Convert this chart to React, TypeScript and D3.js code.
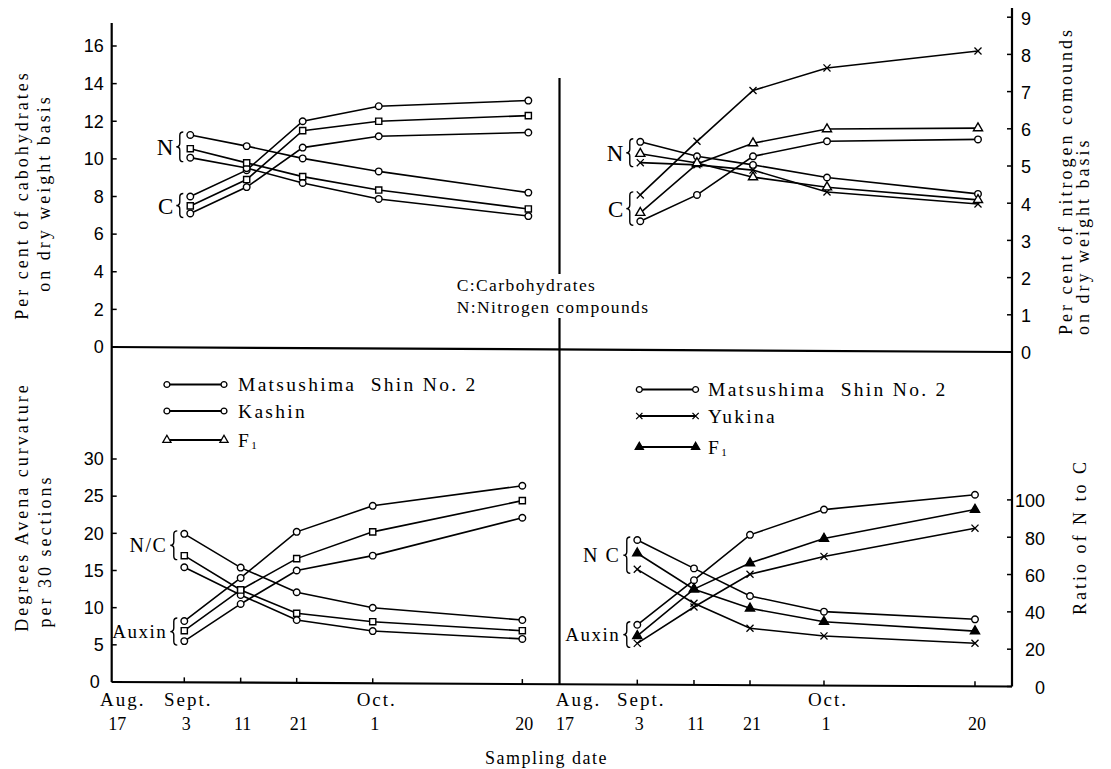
import React from 'react';
import * as d3 from 'd3';

// sampling dates, counted in days after Aug. 17
const sampleDays = [17, 25, 35, 45, 64];
const tickDays = [0, 17, 25, 35, 45, 64];
const dayLabels = ['17', '3', '11', '21', '1', '20'];
const monthDays = [0, 17, 45];
const monthLabels = ['Aug.', 'Sept.', 'Oct.'];

// left pair: Matsushima Shin No.2, Kashin, F1
const carbMatsuL = [7.1, 8.5, 10.6, 11.2, 11.4];
const carbKashin = [8.0, 9.4, 12.0, 12.8, 13.1];
const carbF1L = [7.5, 8.9, 11.5, 12.0, 12.3];
const nitroMatsuL = [5.7, 5.4, 5.07, 4.72, 4.15];
const nitroKashin = [5.09, 4.81, 4.41, 3.98, 3.52];
const nitroF1L = [5.33, 4.95, 4.58, 4.22, 3.71];
const auxinMatsuL = [8.2, 14.0, 20.2, 23.7, 26.4];
const auxinKashin = [5.5, 10.5, 15.0, 17.0, 22.1];
const auxinF1L = [6.9, 12.4, 16.6, 20.2, 24.4];
const ratioMatsuL = [79.4, 61.3, 48.1, 39.8, 33.2];
const ratioKashin = [61.5, 46.6, 33.2, 27.3, 23.1];
const ratioF1L = [67.7, 49.3, 36.8, 32.3, 27.5];

// right pair: Matsushima Shin No.2, Yukina, F1
const carbMatsuR = [6.95, 8.35, 10.4, 11.2, 11.3];
const carbYukina = [8.35, 11.2, 13.9, 15.1, 16.0];
const carbF1R = [7.4, 10.0, 11.1, 11.85, 11.9];
const nitroMatsuR = [5.65, 5.26, 5.03, 4.69, 4.25];
const nitroYukina = [5.09, 5.03, 4.89, 4.3, 3.98];
const nitroF1R = [5.33, 5.08, 4.7, 4.43, 4.09];
const auxinMatsuR = [8.3, 14.3, 20.4, 23.8, 25.8];
const auxinYukina = [5.8, 10.7, 15.1, 17.5, 21.3];
const auxinF1R = [6.8, 13.1, 16.6, 19.9, 23.8];
const ratioMatsuR = [78.5, 63.3, 48.5, 40.1, 36.0];
const ratioYukina = [62.8, 44.6, 31.2, 27.1, 23.2];
const ratioF1R = [71.4, 52.1, 41.9, 34.7, 29.7];

const carbTicks = [0, 2, 4, 6, 8, 10, 12, 14, 16];
const nitroTicks = [0, 1, 2, 3, 4, 5, 6, 7, 8, 9];
const auxinTicks = [0, 5, 10, 15, 20, 25, 30];
const ratioTicks = [0, 20, 40, 60, 80, 100];

const legendLeft = ['Matsushima  Shin No. 2', 'Kashin', 'F1'];
const legendRight = ['Matsushima  Shin No. 2', 'Yukina', 'F1'];

const SERIF = "'Liberation Serif', 'Times New Roman', serif";
const SANS = "'Liberation Sans Narrow', 'Arial Narrow', 'Liberation Sans', sans-serif";

// frame
const X0 = 111.7, XM = 559.5, X1 = 1012;
const fracL = [0, 0.1621, 0.288, 0.4131, 0.5829, 0.917];
const fracR = [0, 0.1719, 0.2972, 0.421, 0.5845, 0.9182];

const dateScale = (left: number, right: number, frac: number[], shift: number) =>
  d3.scaleLinear().domain(tickDays).range(frac.map(f => left + f * (right - left) + shift));

const xTL = dateScale(X0, XM, fracL, 6);
const xBL = dateScale(X0, XM, fracL, 0);
const xTR = dateScale(XM, X1, fracR, 3);
const xBR = dateScale(XM, X1, fracR, 0);

const yCarbL = d3.scaleLinear().domain([0, 16]).range([347, 46]);
const yCarbR = d3.scaleLinear().domain([0, 16]).range([352, 51]);
const yNitL = d3.scaleLinear().domain([0, 9]).range([347, 12.2]);
const yNitR = d3.scaleLinear().domain([0, 9]).range([352, 17.2]);
const yAuxL = d3.scaleLinear().domain([0, 30]).range([682, 459]);
const yAuxR = d3.scaleLinear().domain([0, 30]).range([686.5, 463.5]);
const yRatL = d3.scaleLinear().domain([0, 100]).range([682, 495.4]);
const yRatR = d3.scaleLinear().domain([0, 100]).range([686.5, 499.9]);

// the printed baselines are slightly tilted
const dividerY = d3.scaleLinear().domain([X0, X1]).range([347, 352]);
const axisY = d3.scaleLinear().domain([X0, X1]).range([682, 686.5]);

type Sym = 'circle' | 'square' | 'times' | 'triangle';
const symTypes: Record<Sym, d3.SymbolType> = {
  circle: d3.symbolCircle,
  square: d3.symbolSquare,
  times: d3.symbolTimes,
  triangle: d3.symbolTriangle,
};
const symSize: Record<Sym, number> = { circle: 34, square: 38, times: 34, triangle: 36 };
const symPath = (s: Sym, k = 1) => d3.symbol().type(symTypes[s]).size(symSize[s] * k)() as string;

interface Series { vals: number[]; x: any; y: any; sym: Sym; filled?: boolean }

const series: Series[] = [
  { vals: carbMatsuL, x: xTL, y: yCarbL, sym: 'circle' },
  { vals: carbKashin, x: xTL, y: yCarbL, sym: 'circle' },
  { vals: carbF1L, x: xTL, y: yCarbL, sym: 'square' },
  { vals: nitroMatsuL, x: xTL, y: yNitL, sym: 'circle' },
  { vals: nitroKashin, x: xTL, y: yNitL, sym: 'circle' },
  { vals: nitroF1L, x: xTL, y: yNitL, sym: 'square' },
  { vals: carbMatsuR, x: xTR, y: yCarbR, sym: 'circle' },
  { vals: carbYukina, x: xTR, y: yCarbR, sym: 'times' },
  { vals: carbF1R, x: xTR, y: yCarbR, sym: 'triangle' },
  { vals: nitroMatsuR, x: xTR, y: yNitR, sym: 'circle' },
  { vals: nitroYukina, x: xTR, y: yNitR, sym: 'times' },
  { vals: nitroF1R, x: xTR, y: yNitR, sym: 'triangle' },
  { vals: auxinMatsuL, x: xBL, y: yAuxL, sym: 'circle' },
  { vals: auxinKashin, x: xBL, y: yAuxL, sym: 'circle' },
  { vals: auxinF1L, x: xBL, y: yAuxL, sym: 'square' },
  { vals: ratioMatsuL, x: xBL, y: yRatL, sym: 'circle' },
  { vals: ratioKashin, x: xBL, y: yRatL, sym: 'circle' },
  { vals: ratioF1L, x: xBL, y: yRatL, sym: 'square' },
  { vals: auxinMatsuR, x: xBR, y: yAuxR, sym: 'circle' },
  { vals: auxinYukina, x: xBR, y: yAuxR, sym: 'times' },
  { vals: auxinF1R, x: xBR, y: yAuxR, sym: 'triangle', filled: true },
  { vals: ratioMatsuR, x: xBR, y: yRatR, sym: 'circle' },
  { vals: ratioYukina, x: xBR, y: yRatR, sym: 'times' },
  { vals: ratioF1R, x: xBR, y: yRatR, sym: 'triangle', filled: true },
];

// bracket labels beside the first sampling date
const brackets = [
  { text: 'N', x: xTL, y: yNitL, groups: [nitroMatsuL, nitroKashin, nitroF1L], size: 23 },
  { text: 'C', x: xTL, y: yCarbL, groups: [carbMatsuL, carbKashin, carbF1L], size: 23 },
  { text: 'N', x: xTR, y: yNitR, groups: [nitroMatsuR, nitroYukina, nitroF1R], size: 23 },
  { text: 'C', x: xTR, y: yCarbR, groups: [carbMatsuR, carbYukina, carbF1R], size: 23 },
  { text: 'N/C', x: xBL, y: yRatL, groups: [ratioMatsuL, ratioF1L], size: 20 },
  { text: 'Auxin', x: xBL, y: yAuxL, groups: [auxinMatsuL, auxinKashin, auxinF1L], size: 19 },
  { text: 'N C', x: xBR, y: yRatR, groups: [ratioMatsuR, ratioYukina, ratioF1R], size: 20 },
  { text: 'Auxin', x: xBR, y: yAuxR, groups: [auxinMatsuR, auxinYukina, auxinF1R], size: 19 },
];

const bracePath = (x: number, top: number, bot: number, w = 7) => {
  const m = (top + bot) / 2, h = w / 2;
  return `M${x + w},${top} Q${x + h},${top} ${x + h},${top + h} L${x + h},${m - h} Q${x + h},${m} ${x},${m} ` +
    `Q${x + h},${m} ${x + h},${m + h} L${x + h},${bot - h} Q${x + h},${bot} ${x + w},${bot}`;
};

const Label = ({ text }: { text: string }) =>
  text === 'F1' ? (
    <>
      <tspan>F</tspan>
      <tspan fontSize={11} dy={2}>1</tspan>
    </>
  ) : (
    <>{text}</>
  );

const Legend = ({ x0, x1, tx, ys, labels, syms, filled }: any) => (
  <g>
    {labels.map((t: string, i: number) => (
      <g key={t + i}>
        <line x1={x0} x2={x1} y1={ys[i]} y2={ys[i]} stroke="#000" strokeWidth={1.8} />
        {[x0, x1].map(px => (
          <path key={px} d={symPath(syms[i], 0.8)} transform={`translate(${px},${ys[i]})`}
            fill={syms[i] === 'times' ? 'none' : filled[i] ? '#000' : '#fff'} stroke="#000" strokeWidth={1.3} />
        ))}
        <text x={tx} y={ys[i]} dy="0.35em" fontFamily={SERIF} fontSize={19.5} letterSpacing={2.3}
          style={{ whiteSpace: 'pre' }}>
          <Label text={t} />
        </text>
      </g>
    ))}
  </g>
);

export default function App() {
  const W = 1111, H = 769;

  const lineOf = (s: Series) =>
    d3.line<number>().x((_, i) => s.x(sampleDays[i])).y(v => s.y(v))(s.vals) as string;

  const titleStyle = { fontFamily: SERIF, fontSize: 18, letterSpacing: 3 };

  return (
    <svg width={W} height={H} viewBox={`0 0 ${W} ${H}`}
      style={{ position: 'absolute', left: 0, top: 0, background: '#fff' }}>
      <g stroke="#000" strokeWidth={2.2} fill="none">
        {/* frame */}
        <line x1={X0} x2={X0} y1={23} y2={axisY(X0)} />
        <line x1={X1} x2={X1} y1={8} y2={axisY(X1)} />
        <line x1={XM} x2={XM} y1={78} y2={274} />
        <line x1={XM} x2={XM} y1={318} y2={axisY(XM)} />
        <line x1={X0} x2={X1} y1={dividerY(X0)} y2={dividerY(X1)} />
        <line x1={X0} x2={X1} y1={axisY(X0)} y2={axisY(X1)} />
      </g>

      {/* y ticks */}
      <g fontFamily={SANS} fontSize={18}>
        {carbTicks.map(t => (
          <g key={'c' + t}>
            <line x1={X0} x2={X0 + 5} y1={yCarbL(t)} y2={yCarbL(t)} stroke="#000" strokeWidth={1.5} />
            <text x={X0 - 8} y={yCarbL(t)} dy="0.35em" textAnchor="end">{t}</text>
          </g>
        ))}
        {auxinTicks.map(t => (
          <g key={'a' + t}>
            <line x1={X0} x2={X0 + 5} y1={yAuxL(t)} y2={yAuxL(t)} stroke="#000" strokeWidth={1.5} />
            <text x={X0 - (t === 0 ? 12 : 8)} y={yAuxL(t)} dy="0.35em" textAnchor="end">{t}</text>
          </g>
        ))}
        {nitroTicks.map(t => (
          <g key={'n' + t}>
            <line x1={X1 - 5} x2={X1} y1={yNitR(t)} y2={yNitR(t)} stroke="#000" strokeWidth={1.5} />
            <text x={X1 + 9} y={yNitR(t) + 1} dy="0.35em" textAnchor="start">{t}</text>
          </g>
        ))}
        {ratioTicks.map(t => (
          <g key={'r' + t}>
            <line x1={X1 - 5} x2={X1} y1={yRatR(t)} y2={yRatR(t)} stroke="#000" strokeWidth={1.5} />
            <text x={X1 + 33} y={yRatR(t) + 1} dy="0.35em" textAnchor="end">{t}</text>
          </g>
        ))}
      </g>

      {/* x ticks and date labels */}
      {[xBL, xBR].map((xs, p) => (
        <g key={'x' + p} fontFamily={SERIF}>
          {sampleDays.map(d => (
            <line key={d} x1={xs(d)} x2={xs(d)} y1={axisY(xs(d))} y2={axisY(xs(d)) - 5}
              stroke="#000" strokeWidth={1.5} />
          ))}
          {monthLabels.map((m, i) => (
            <text key={m} x={xs(monthDays[i]) + (i === 0 ? (p === 0 ? 11 : 19) : 4)} y={699} dy="0.35em"
              textAnchor="middle" fontSize={19} letterSpacing={2}>{m}</text>
          ))}
          {dayLabels.map((t, i) => (
            <text key={t + i} x={xs(tickDays[i]) + (i === 0 ? 5.5 : 2)} y={724} dy="0.35em"
              textAnchor="middle" fontSize={18}>{t}</text>
          ))}
        </g>
      ))}
      <text x={485} y={758} dy="0.35em" fontFamily={SERIF} fontSize={18} letterSpacing={1.5}>Sampling date</text>

      {/* axis titles */}
      <g {...titleStyle}>
        <text transform="translate(22,195) rotate(-90)" dy="0.35em" textAnchor="middle">Per cent of cabohydrates</text>
        <text transform="translate(44,193) rotate(-90)" dy="0.35em" textAnchor="middle">on dry weight basis</text>
        <text transform="translate(22,507) rotate(-90)" dy="0.35em" textAnchor="middle">Degrees Avena curvature</text>
        <text transform="translate(45,551) rotate(-90)" dy="0.35em" textAnchor="middle">per 30 sections</text>
        <text transform="translate(1066,335) rotate(-90)" dy="0.35em" textAnchor="start">Per cent of nitrogen comounds</text>
        <text transform="translate(1083,335) rotate(-90)" dy="0.35em" textAnchor="start">on dry weight basis</text>
        <text transform="translate(1080,537) rotate(-90)" dy="0.35em" textAnchor="middle">Ratio of N to C</text>
      </g>

      {/* key for C and N */}
      <g fontFamily={SERIF} fontSize={17.5} letterSpacing={1.4}>
        <text x={456.7} y={285} dy="0.35em">C:Carbohydrates</text>
        <text x={456.7} y={307} dy="0.35em">N:Nitrogen compounds</text>
      </g>

      {/* series */}
      <g fill="none" stroke="#000" strokeWidth={1.6}>
        {series.map((s, i) => <path key={i} d={lineOf(s)} />)}
      </g>
      <g stroke="#000">
        {series.map((s, i) =>
          s.vals.map((v, j) => (
            <path key={i + '-' + j} d={symPath(s.sym)}
              transform={`translate(${s.x(sampleDays[j])},${s.y(v)})`}
              fill={s.sym === 'times' ? 'none' : s.filled ? '#000' : '#fff'}
              strokeWidth={s.sym === 'times' ? 1.3 : 1.4} />
          ))
        )}
      </g>

      {/* braces */}
      {brackets.map((b, i) => {
        const ys = b.groups.map(g => b.y(g[0]));
        const top = (d3.min(ys) as number) - 3;
        const bot = (d3.max(ys) as number) + 4;
        const tip = b.x(sampleDays[0]) - 14;
        return (
          <g key={'b' + i}>
            <path d={bracePath(tip, top, bot)} fill="none" stroke="#000" strokeWidth={1.4} />
            <text x={tip - 3} y={(top + bot) / 2} dy="0.35em" textAnchor="end" fontFamily={SERIF}
              fontSize={b.size} letterSpacing={b.text.length > 1 ? 1.5 : 0}
              style={{ whiteSpace: 'pre' }}>{b.text}</text>
          </g>
        );
      })}

      {/* legends */}
      <Legend x0={166.9} x1={224} tx={238} ys={[384.5, 411, 440]} labels={legendLeft}
        syms={['circle', 'circle', 'triangle']} filled={[false, false, false]} />
      <Legend x0={639.3} x1={695.6} tx={708} ys={[389.5, 416, 447]} labels={legendRight}
        syms={['circle', 'times', 'triangle']} filled={[false, false, true]} />
    </svg>
  );
}
